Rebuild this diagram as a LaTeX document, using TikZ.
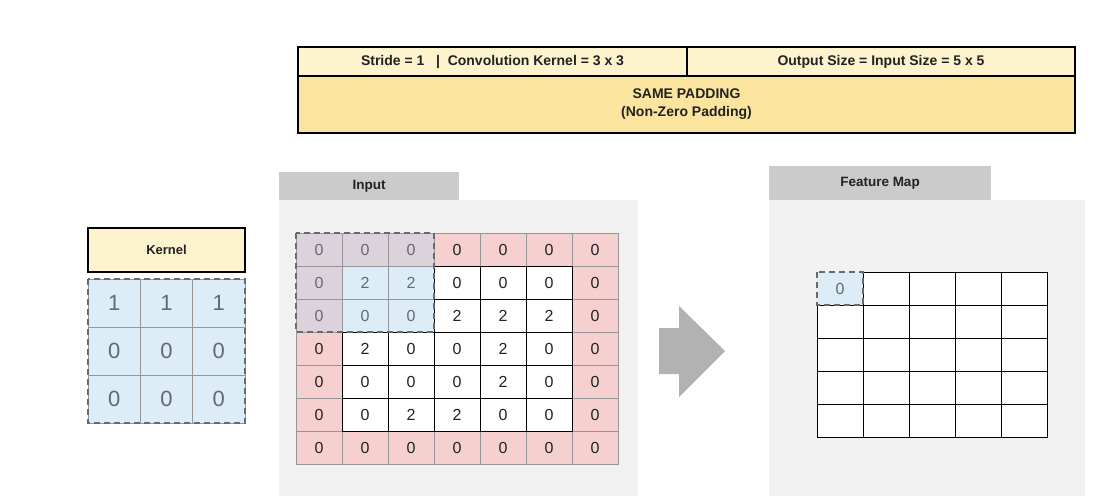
\documentclass[tikz,border=0pt]{standalone}
\usepackage{fontspec}
\setmainfont{Liberation Sans}
\usepackage{tikz}
\usetikzlibrary{positioning}
\definecolor{hdrlight}{RGB}{253,243,205}
\definecolor{hdrdark}{RGB}{251,228,158}
\definecolor{kblue}{RGB}{220,237,248}
\definecolor{padpink}{RGB}{246,207,207}
\definecolor{ovpurple}{RGB}{219,210,220}
\definecolor{panelgray}{RGB}{241,241,241}
\definecolor{tabgray}{RGB}{203,203,203}
\definecolor{arrowgray}{RGB}{178,178,178}
\definecolor{linegray}{RGB}{150,150,150}
\definecolor{dkgray}{RGB}{34,34,34}
\definecolor{medgray}{RGB}{100,106,112}
\tikzset{
    hdrbox/.style={rectangle, draw=black, line width=1.6pt, inner sep=0pt, outer sep=0pt,
                   align=center, text=dkgray, font=\bfseries\fontsize{14}{18}\selectfont},
    tabbox/.style={rectangle, fill=tabgray, inner sep=0pt, outer sep=0pt, anchor=south west,
                   text=dkgray, font=\bfseries\fontsize{13.5}{16}\selectfont},
    panel/.style={rectangle, fill=panelgray, inner sep=0pt, outer sep=0pt, anchor=north west},
    kcell/.style={rectangle, draw=linegray, fill=kblue, inner sep=0pt, outer sep=0pt,
                  minimum width=52.3pt, minimum height=48pt, text=medgray,
                  font=\fontsize{22}{24}\selectfont},
    incell/.style={rectangle, draw=linegray, inner sep=0pt, outer sep=0pt,
                   minimum width=46pt, minimum height=33pt, font=\fontsize{16}{18}\selectfont},
    fmcell/.style={rectangle, draw=black, fill=white, inner sep=0pt, outer sep=0pt,
                   minimum width=46pt, minimum height=33pt, font=\fontsize{16}{18}\selectfont},
    slide/.style={draw=linegray!70!black, line width=1.2pt, dash pattern=on 6pt off 4pt},
}

\begin{document}
\begin{tikzpicture}[x=1pt, y=-1pt]
    \useasboundingbox (0,0) rectangle (1103,496);

    % Header
    \node[hdrbox, fill=hdrlight, minimum width=389pt, minimum height=29pt] (stride) at (492.5,61.5)
        {Stride = 1 \ \ |\ \ Convolution Kernel = 3 x 3};
    \node[hdrbox, fill=hdrlight, minimum width=388pt, minimum height=29pt, right=0pt of stride] (outsize)
        {Output Size = Input Size = 5 x 5};
    \node[hdrbox, fill=hdrdark, minimum width=777pt, minimum height=57pt, anchor=north west] (same)
        at (stride.south west) {SAME PADDING\\(Non-Zero Padding)};

    % Kernel
    \node[hdrbox, fill=hdrlight, minimum width=157pt, minimum height=44pt,
          font=\bfseries\fontsize{13}{15}\selectfont] (kernel) at (166.5,250) {Kernel};
    \foreach \vals [count=\r from 0] in {{1,1,1},{0,0,0},{0,0,0}}{
        \foreach \v [count=\c from 0] in \vals{
            \node[kcell] (k-\r-\c) at ({114.15+52.3*\c},{303+48*\r}) {\v};
        }
    }
    \draw[slide] (k-0-0.north west) rectangle (k-2-2.south east);

    % Input panel
    \node[panel, minimum width=359pt, minimum height=296pt] (inpanel) at (279,200) {};
    \node[tabbox, minimum width=180pt, minimum height=28pt] (intab) at (inpanel.north west) {Input};
    \foreach \vals [count=\r from 0] in {{0,0,0,0,0,0,0},{0,2,2,0,0,0,0},{0,0,0,2,2,2,0},
            {0,2,0,0,2,0,0},{0,0,0,0,2,0,0},{0,0,2,2,0,0,0},{0,0,0,0,0,0,0}}{
        \foreach \v [count=\c from 0] in \vals{
            \def\cellcol{white}\def\txtcol{dkgray}
            \ifnum\r=0 \def\cellcol{padpink}\fi
            \ifnum\r=6 \def\cellcol{padpink}\fi
            \ifnum\c=0 \def\cellcol{padpink}\fi
            \ifnum\c=6 \def\cellcol{padpink}\fi
            \ifnum\r<3 \ifnum\c<3
                \def\cellcol{kblue}\def\txtcol{medgray}
                \ifnum\r=0 \def\cellcol{ovpurple}\fi
                \ifnum\c=0 \def\cellcol{ovpurple}\fi
            \fi\fi
            \node[incell, fill=\cellcol, text=\txtcol] (in-\r-\c) at ({319+46*\c},{249.5+33*\r}) {\v};
        }
    }
    % inner cells outlined in black
    \foreach \r in {1,...,5}{
        \foreach \c in {1,...,5}{
            \pgfmathtruncatemacro{\ov}{(\r<3)&&(\c<3)}
            \ifnum\ov=0
                \draw[black, line width=0.8pt] (in-\r-\c.north west) rectangle (in-\r-\c.south east);
            \fi
        }
    }
    \draw[slide] (in-0-0.north west) rectangle (in-2-2.south east);

    % Arrow
    \fill[arrowgray] (659,328) -- (679,328) -- (679,306) -- (725,351) -- (679,397)
        -- (679,374) -- (659,374) -- cycle;

    % Feature map panel
    \node[panel, minimum width=316pt, minimum height=296pt] (fmpanel) at (769,200) {};
    \node[tabbox, minimum width=222pt, minimum height=34pt] (fmtab) at (fmpanel.north west) {Feature Map};
    \foreach \r in {0,...,4}{
        \foreach \c in {0,...,4}{
            \node[fmcell] (fm-\r-\c) at ({840+46*\c},{288.5+33*\r}) {};
        }
    }
    \node[fmcell, draw=none, fill=kblue, text=medgray] (fm-first) at (fm-0-0) {0};
    \draw[slide] (fm-first.north west) rectangle (fm-first.south east);
\end{tikzpicture}
\end{document}
